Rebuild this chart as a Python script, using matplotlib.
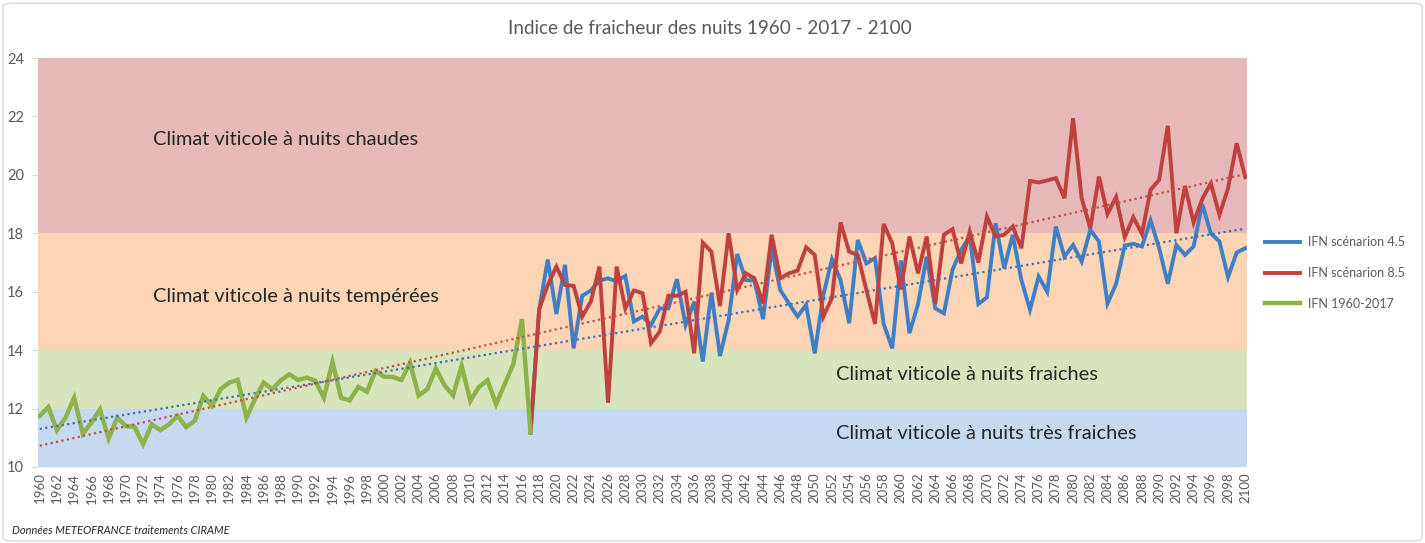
import numpy as np
import matplotlib
matplotlib.use("Agg")
import matplotlib.pyplot as plt
from matplotlib.patches import FancyBboxPatch

plt.rcParams['font.family'] = ['Lato', 'DejaVu Sans']

# données
annees_hist = list(range(1960, 2018))
ifn_hist = [11.75, 12.05, 11.26, 11.69, 12.37, 11.14, 11.52, 11.97, 10.98, 11.69,
            11.40, 11.38, 10.78, 11.46, 11.26, 11.46, 11.75, 11.37, 11.58, 12.43,
            12.09, 12.66, 12.89, 12.98, 11.69, 12.32, 12.89, 12.66, 12.97, 13.17,
            12.98, 13.06, 12.95, 12.37, 13.60, 12.37, 12.28, 12.74, 12.58, 13.29,
            13.09, 13.08, 12.98, 13.57, 12.45, 12.66, 13.37, 12.80, 12.45, 13.46,
            12.26, 12.74, 12.97, 12.15, 12.84, 13.52, 15.06, 11.18]

annees_scen = list(range(2017, 2101))
ifn_45 = [11.18, 15.40, 17.10, 15.24, 16.92, 14.06, 15.86, 16.04, 16.38, 16.46,
          16.35, 16.54, 14.98, 15.15, 14.86, 15.43, 15.43, 16.43, 14.86, 15.66,
          13.61, 15.97, 13.80, 15.03, 17.29, 16.40, 16.38, 15.06, 17.49, 16.06,
          15.60, 15.15, 15.55, 13.89, 15.89, 17.11, 16.40, 14.92, 17.77, 16.97,
          17.15, 14.90, 14.06, 17.07, 14.58, 15.58, 17.20, 15.43, 15.26, 16.75,
          17.43, 17.89, 15.58, 15.81, 18.34, 16.80, 17.95, 16.40, 15.38, 16.52,
          16.00, 18.23, 17.20, 17.60, 17.03, 18.12, 17.72, 15.60, 16.27, 17.58,
          17.64, 17.55, 18.44, 17.49, 16.27, 17.60, 17.26, 17.55, 19.00, 18.00,
          17.72, 16.50, 17.34, 17.49]
ifn_85 = [11.18, 15.40, 16.23, 16.86, 16.23, 16.20, 15.15, 15.66, 16.86, 12.20,
          16.86, 15.43, 16.04, 15.95, 14.24, 14.63, 15.86, 15.86, 16.00, 13.89,
          17.68, 17.37, 15.51, 18.00, 16.06, 16.63, 16.46, 15.60, 17.95, 16.46,
          16.63, 16.72, 17.52, 17.26, 15.15, 15.78, 18.37, 17.37, 17.26, 16.06,
          14.90, 18.32, 17.66, 16.08, 17.89, 16.63, 17.89, 15.58, 17.95, 18.14,
          16.97, 18.06, 17.00, 18.57, 17.89, 17.95, 18.23, 17.49, 19.79, 19.74,
          19.81, 19.89, 19.20, 21.94, 19.20, 18.17, 19.94, 18.66, 19.24, 17.87,
          18.55, 17.98, 19.49, 19.83, 21.68, 18.00, 19.62, 18.37, 19.17, 19.71,
          18.63, 19.54, 21.08, 19.92]

# zones climatiques
limites = [10, 12, 14, 18, 24]
couleurs_zones = ["#C5D9F1", "#D7E4BC", "#FCD5B4", "#E6B8B7"]
noms_zones = ["Climat viticole à nuits très fraiches", "Climat viticole à nuits fraiches",
              "Climat viticole à nuits tempérées", "Climat viticole à nuits chaudes"]

fig = plt.figure(figsize=(14.25, 5.43), dpi=100)
ax = fig.add_axes([38 / 1425, 1 - 467 / 543, (1247 - 38) / 1425, (467 - 58) / 543])

for i in range(len(couleurs_zones)):
    ax.axhspan(limites[i], limites[i + 1], color=couleurs_zones[i], lw=0, zorder=0)

# textes des zones
pos_textes = [(2052.5, 11.15), (2052.5, 13.15), (1973.1, 15.85), (1973.1, 21.2)]
for (x, y), nom in zip(pos_textes, noms_zones):
    ax.text(x, y, nom, fontsize=14.4, color="#262626", va="center", ha="left", zorder=1)

ax.plot(annees_scen, ifn_45, color="#3F7FC6", lw=2.8, label="IFN scénarion 4.5", zorder=3,
        solid_joinstyle="miter")
ax.plot(annees_scen, ifn_85, color="#C0403D", lw=2.8, label="IFN scénarion 8.5", zorder=4,
        solid_joinstyle="miter")
ax.plot(annees_hist, ifn_hist, color="#8DB34A", lw=3.2, label="IFN 1960-2017", zorder=5,
        solid_joinstyle="miter")

# courbes de tendance (séries complètes historique + scénario)
x_tout = np.array(annees_hist[:-1] + annees_scen)
x_ligne = np.array([1960, 2100])
for serie, coul in [(ifn_45, "#4470B8"), (ifn_85, "#C8504D")]:
    y_tout = np.array(ifn_hist[:-1] + serie)
    a, b = np.polyfit(x_tout, y_tout, 1)
    ax.plot(x_ligne, a * x_ligne + b, ls=(0, (1, 1.5)), color=coul, lw=1.6, zorder=6)

ax.set_xlim(1959.8, 2100.2)
ax.set_ylim(10, 24)
ax.set_yticks(range(10, 25, 2))
ax.set_xticks(range(1960, 2101, 2))
ax.tick_params(axis="x", labelrotation=90, labelsize=9.5, colors="#595959", length=0, pad=4)
ax.tick_params(axis="y", labelsize=10.5, labelcolor="#595959", color="#D9D9D9",
               length=4, width=0.8, pad=6)
for s in ax.spines.values():
    s.set_visible(False)

fig.text(710 / 1425, 1 - 28 / 543, "Indice de fraicheur des nuits 1960 - 2017 - 2100",
         fontsize=13.6, color="#595959", ha="center", va="center")
fig.text(12 / 1425, 1 - 531 / 543, "Données METEOFRANCE traitements CIRAME",
         fontsize=8, style="italic", color="#262626", ha="left", va="center")

fig.legend(loc="center left", bbox_to_anchor=(1254 / 1425, 1 - 273 / 543), frameon=False,
           fontsize=9, handlelength=2.8, labelspacing=1.5, handletextpad=0.6,
           labelcolor="#595959")

cadre = FancyBboxPatch((0.002, 0.004), 0.996, 0.99, boxstyle="round,pad=0,rounding_size=0.006",
                       transform=fig.transFigure, fill=False, edgecolor="#D9D9D9", lw=1)
fig.patches.append(cadre)

fig.savefig("out.png", dpi=100)
